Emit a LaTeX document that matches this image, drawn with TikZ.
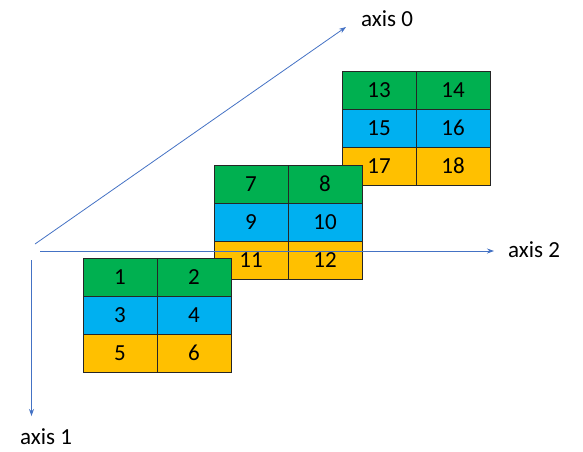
\documentclass[tikz,border=0pt]{standalone}
\usepackage{fontspec}
\setmainfont{Carlito}
\usetikzlibrary{arrows.meta}
\definecolor{cgreen}{HTML}{00B050}
\definecolor{cblue}{HTML}{00B0F0}
\definecolor{corange}{HTML}{FFC000}
\definecolor{caxis}{HTML}{4472C4}
\begin{document}
\begin{tikzpicture}[x=1pt,y=-1pt,
  cell/.style={draw=black!85, line width=0.9pt, minimum width=74pt, minimum height=38pt, inner sep=0pt, font=\fontsize{23}{27}\selectfont},
  g/.style={cell, fill=cgreen},
  b/.style={cell, fill=cblue},
  o/.style={cell, fill=corange},
  axisline/.style={draw=caxis, line width=0.8pt, -{Stealth[length=7pt,width=5pt]}},
  lbl/.style={font=\fontsize{23}{27}\selectfont, inner sep=0pt}]
\useasboundingbox (0,0) rectangle (583,451);
% grid 3
\node[g] (c13) at (379,90) {13};
\node[g] (c14) at (453,90) {14};
\node[b] (c15) at (379,128) {15};
\node[b] (c16) at (453,128) {16};
\node[o] (c17) at (379,166) {17};
\node[o] (c18) at (453,166) {18};
% grid 2
\node[g] (c7) at (251,184) {7};
\node[g] (c8) at (325,184) {8};
\node[b] (c9) at (251,222) {9};
\node[b] (c10) at (325,222) {10};
\node[o] (c11) at (251,260) {11};
\node[o] (c12) at (325,260) {12};
% axes
\coordinate (o0) at (35,244);
\coordinate (e0) at (346,27);
\coordinate (o2) at (40,251);
\coordinate (e2) at (494,251);
\coordinate (o1) at (31.5,260);
\coordinate (e1) at (31.5,416);
\draw[axisline] (o0) -- (e0);
\draw[axisline] (o2) -- (e2);
\draw[axisline] (o1) -- (e1);
\node[lbl] (l0) at (387,19) {axis 0};
\node[lbl] (l2) at (534,250) {axis 2};
\node[lbl] (l1) at (46,437) {axis 1};
% grid 1
\node[g] (c1) at (120,277) {1};
\node[g] (c2) at (194,277) {2};
\node[b] (c3) at (120,315) {3};
\node[b] (c4) at (194,315) {4};
\node[o] (c5) at (120,353) {5};
\node[o] (c6) at (194,353) {6};
\end{tikzpicture}
\end{document}
